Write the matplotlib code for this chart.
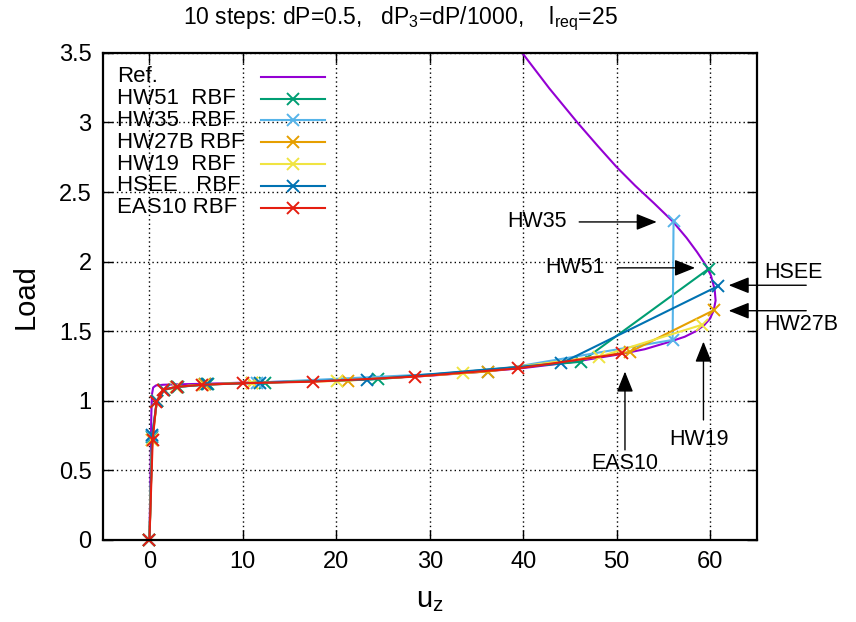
import matplotlib

matplotlib.use("Agg")
import matplotlib.pyplot as plt
from matplotlib.ticker import FuncFormatter, MultipleLocator

plt.rcParams["font.family"] = ["Liberation Sans", "DejaVu Sans"]
plt.rcParams["mathtext.fontset"] = "custom"
plt.rcParams["mathtext.rm"] = "Liberation Sans"
plt.rcParams["mathtext.it"] = "Liberation Sans"

# reference solution (smooth curve, no markers)
ref_x = [0, 0.12, 0.2, 0.28, 0.4, 0.7, 1.5, 3, 6, 10, 15, 20, 25, 30, 35, 40, 45,
         50, 53, 55.5, 57.3, 58.5, 59.4, 60.0, 60.4, 60.6, 60.5, 60.1, 59.5, 58.6,
         57.5, 56.0, 54.0, 52.0, 50.0, 48.0, 45.8, 42.8, 39.9]
ref_y = [0, 0.5, 0.9, 1.05, 1.095, 1.11, 1.115, 1.118, 1.122, 1.13, 1.138, 1.148,
         1.162, 1.18, 1.205, 1.235, 1.275, 1.33, 1.37, 1.42, 1.46, 1.5, 1.545, 1.59,
         1.65, 1.72, 1.8, 1.9, 1.98, 2.07, 2.17, 2.29, 2.42, 2.545, 2.68, 2.83, 3.0,
         3.245, 3.5]

# RBF runs, one point per load step
hw51_x = [0, 0.3, 0.8, 1.6, 3.1, 6.3, 12.4, 24.5, 46.2, 59.9]
hw51_y = [0, 0.74, 1.0, 1.08, 1.10, 1.117, 1.13, 1.155, 1.28, 1.95]

hw35_x = [0, 0.3, 0.8, 1.6, 3.0, 6.0, 11.5, 36.2, 56.0, 56.1]
hw35_y = [0, 0.75, 1.0, 1.08, 1.10, 1.117, 1.13, 1.21, 1.437, 2.29]

hw27b_x = [0, 0.3, 0.8, 1.6, 3.0, 5.9, 11.0, 21.3, 36.2, 51.4, 60.4]
hw27b_y = [0, 0.72, 1.0, 1.08, 1.10, 1.117, 1.13, 1.145, 1.21, 1.35, 1.65]

hw19_x = [0, 0.3, 0.8, 1.6, 2.8, 5.7, 11.0, 20.1, 33.6, 48.1, 59.1]
hw19_y = [0, 0.72, 1.0, 1.08, 1.10, 1.116, 1.13, 1.142, 1.198, 1.315, 1.545]

hsee_x = [0, 0.3, 0.8, 1.6, 3.0, 6.2, 11.8, 23.3, 44.1, 60.9]
hsee_y = [0, 0.755, 1.0, 1.08, 1.10, 1.117, 1.13, 1.152, 1.27, 1.825]

eas10_x = [0, 0.35, 0.75, 1.5, 2.9, 5.6, 10.0, 17.5, 28.4, 39.5, 50.6]
eas10_y = [0, 0.72, 0.99, 1.08, 1.10, 1.115, 1.126, 1.137, 1.173, 1.233, 1.34]

series = [
    ("HW51  RBF", hw51_x, hw51_y, "#009E73"),
    ("HW35  RBF", hw35_x, hw35_y, "#56B4E9"),
    ("HW27B RBF", hw27b_x, hw27b_y, "#E69F00"),
    ("HW19  RBF", hw19_x, hw19_y, "#F0E442"),
    ("HSEE   RBF", hsee_x, hsee_y, "#0072B2"),
    ("EAS10 RBF", eas10_x, eas10_y, "#E51E10"),
]
ref_color = "#9400D3"

# labelled arrows: text, text position, arrow tail, arrow tip
notes = [
    ("HW35", (41.5, 2.285), (46.0, 2.285), (54.3, 2.285)),
    ("HW51", (45.5, 1.955), (50.1, 1.955), (58.4, 1.955)),
    ("HSEE", (68.9, 1.92), (70.3, 1.83), (62.0, 1.83)),
    ("HW27B", (69.8, 1.545), (70.3, 1.647), (62.0, 1.647)),
    ("EAS10", (50.9, 0.55), (50.9, 0.647), (50.9, 1.21)),
    ("HW19", (58.8, 0.718), (59.3, 0.862), (59.3, 1.425)),
]

LW = 1.5
MS = 9
MEW = 1.4


def legend_row(ax, row, label, color, marker):
    y = 0.951 - row * 0.0448
    ax.text(0.022, y, label, transform=ax.transAxes, fontsize=16, va="center", ha="left")
    ax.plot([0.242, 0.340], [y, y], color=color, lw=LW, transform=ax.transAxes, clip_on=False)
    if marker:
        ax.plot([0.291], [y], color=color, marker="x", ms=MS, mew=MEW, ls="none",
                transform=ax.transAxes, clip_on=False)


fig = plt.figure(figsize=(8.56, 6.22), dpi=100)
ax = fig.add_axes([0.12, 0.132, 0.764, 0.783])

ax.plot(ref_x, ref_y, color=ref_color, lw=LW)
for label, xs, ys, color in series:
    ax.plot(xs, ys, color=color, lw=LW, marker="x", ms=MS, mew=MEW, clip_on=False)

ax.set_xlim(-5, 65)
ax.set_ylim(0, 3.5)
ax.yaxis.set_major_locator(MultipleLocator(0.5))
ax.set_xticks(range(0, 61, 10))
ax.yaxis.set_major_formatter(FuncFormatter(lambda v, p: f"{v:g}"))
ax.tick_params(direction="in", length=7, width=1, top=True, right=True,
               labelsize=17, pad=8)
ax.grid(True, color="black", lw=1, ls=(0, (1, 2.2)))
ax.set_axisbelow(True)
for sp in ax.spines.values():
    sp.set_linewidth(1.6)

ax.set_xlabel(r"u$_z$", fontsize=21, labelpad=9)
ax.set_ylabel("Load", fontsize=21, labelpad=14)

fig.text(400 / 856, 1 - 19 / 622,
         r"10 steps: dP=0.5,   dP$_3$=dP/1000,    l$_{req}$=25",
         fontsize=16.5, ha="center", va="center")

legend_row(ax, 0, "Ref.", ref_color, False)
for i, (label, xs, ys, color) in enumerate(series):
    legend_row(ax, i + 1, label, color, True)

for text, tpos, tail, tip in notes:
    ax.text(tpos[0], tpos[1], text, fontsize=15.5, ha="center", va="center")
    ax.annotate("", xy=tip, xytext=tail, annotation_clip=False,
                arrowprops=dict(arrowstyle="-|>,head_length=0.45,head_width=0.18",
                                color="black", lw=1, mutation_scale=28,
                                shrinkA=0, shrinkB=0))

fig.savefig("out.png", dpi=100)
